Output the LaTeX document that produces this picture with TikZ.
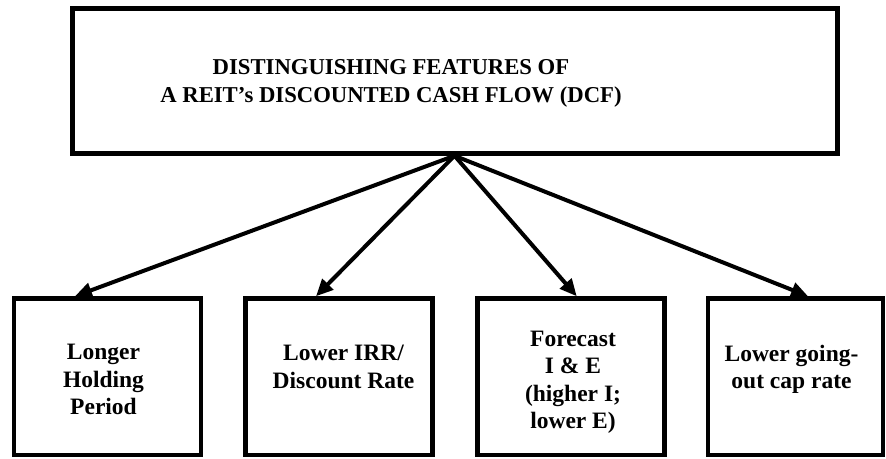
\documentclass[tikz,border=0pt]{standalone}
\usepackage{fontspec}
\setmainfont{Liberation Serif}
\usetikzlibrary{arrows.meta,calc}

\begin{document}
\begin{tikzpicture}[x=1pt, y=-1pt, line width=4.5pt,
box/.style={draw, rectangle, inner sep=0pt, minimum width=187pt, minimum height=156.5pt},
txt/.style={font=\bfseries\fontsize{23.5}{27.5}\selectfont, align=center, inner sep=0pt, anchor=north},
link/.style={-{Triangle[length=17pt,width=15pt]}, line width=4pt}]
\useasboundingbox (0,0) rectangle (886,458);
\node[draw, inner sep=0pt, minimum width=765pt, minimum height=144.5pt, line width=5pt] (top) at (454.5,81) {};
\node[font=\bfseries\fontsize{22.7}{28}\selectfont, align=center, inner sep=0pt] (title) at (391,83)
    {DISTINGUISHING FEATURES OF\\A REIT’s DISCOUNTED CASH FLOW (DCF)};
\node[box] (b1) at (107.5,376.75) {};
\node[box] (b2) at (339,376.75) {};
\node[box] (b3) at (571,376.75) {};
\node[box, minimum width=175pt] (b4) at (795.5,376.75) {};
\node[txt] (t1) at (103.5,342) {Longer\\Holding\\Period};
\node[txt] (t2) at (343.5,343) {Lower IRR/\\Discount Rate};
\node[txt] (t3) at (573,328.5) {Forecast\\I \& E\\(higher I;\\lower E)};
\node[txt] (t4) at (791.5,342.5) {Lower going-\\out cap rate};
\draw[link] (top.south) -- ($(b1.north west)!0.33!(b1.north east)$);
\draw[link] (top.south) -- ($(b2.north west)!0.38!(b2.north east)$);
\draw[link] (top.south) -- ($(b3.north west)!0.53!(b3.north east)$);
\draw[link] (top.south) -- ($(b4.north west)!0.57!(b4.north east)$);
\end{tikzpicture}
\end{document}
